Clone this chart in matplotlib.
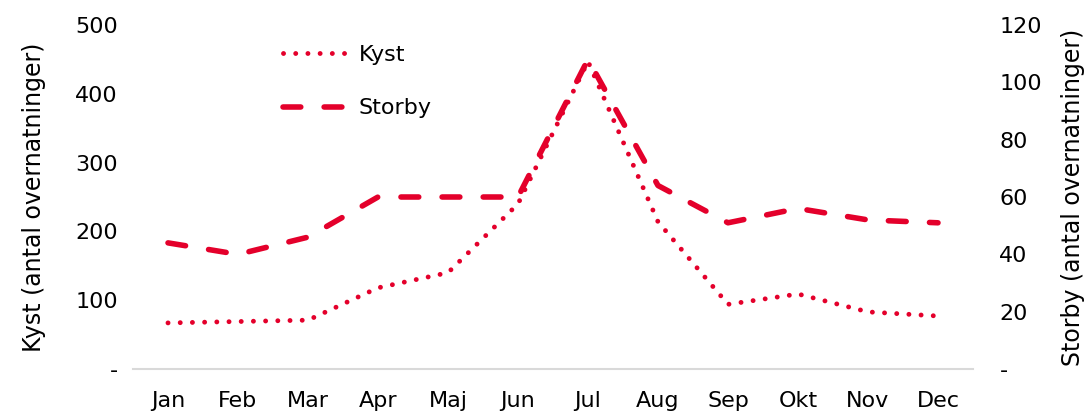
import matplotlib
matplotlib.use("Agg")
import matplotlib.pyplot as plt

plt.rcParams['font.family'] = ['DejaVu Sans']

months = ['Jan', 'Feb', 'Mar', 'Apr', 'Maj', 'Jun', 'Jul', 'Aug', 'Sep', 'Okt', 'Nov', 'Dec']
kyst = [67, 69, 71, 118, 140, 240, 447, 214, 94, 109, 83, 77]
storby = [44, 40, 46, 60, 60, 60, 108, 64, 51, 56, 52, 51]

red = '#E4002B'
W, H = 1084, 411

fig = plt.figure(figsize=(W/100, H/100), dpi=100)
ax = fig.add_axes([133/W, 1-369/H, 840/W, 344/H])
ax2 = ax.twinx()

x = list(range(len(months)))
l1, = ax.plot(x, kyst, color=red, lw=3.5, linestyle=(0, (0.01, 2.5)),
              dash_capstyle='round', label='Kyst')
l2, = ax2.plot(x, storby, color=red, lw=4, linestyle=(0, (3.2, 4.2)),
               dash_capstyle='round', label='Storby')

ax.set_xlim(-0.5, 11.5)
ax.set_ylim(0, 500)
ax2.set_ylim(0, 120)
ax.set_xticks(x)
ax.set_xticklabels(months)
ax.set_yticks(range(0, 501, 100))
ax.set_yticklabels(['-'] + [str(v) for v in range(100, 501, 100)])
ax2.set_yticks(range(0, 121, 20))
ax2.set_yticklabels(['-'] + [str(v) for v in range(20, 121, 20)])

for a in (ax, ax2):
    for s in a.spines.values():
        s.set_visible(False)
    a.tick_params(length=0, labelsize=16, colors='black')
ax.spines['bottom'].set_visible(True)
ax.spines['bottom'].set_color('#d9d9d9')
ax.spines['bottom'].set_linewidth(1.5)
ax.tick_params(axis='y', pad=11)
ax2.tick_params(axis='y', pad=19)
ax.tick_params(axis='x', pad=16)

ax.set_ylabel('Kyst (antal overnatninger)', fontsize=17)
ax2.set_ylabel('Storby (antal overnatninger)', fontsize=17)
ax.yaxis.set_label_coords((46 - 133) / 840, 0.5)
ax2.yaxis.set_label_coords((1061 - 133) / 840, 0.5)

ax.legend(handles=[l1, l2], loc='upper left', bbox_to_anchor=(0.155, 1.0),
          frameon=False, fontsize=16, handlelength=2.9, labelspacing=1.5,
          handletextpad=0.5)

fig.savefig('out.png', dpi=100)
